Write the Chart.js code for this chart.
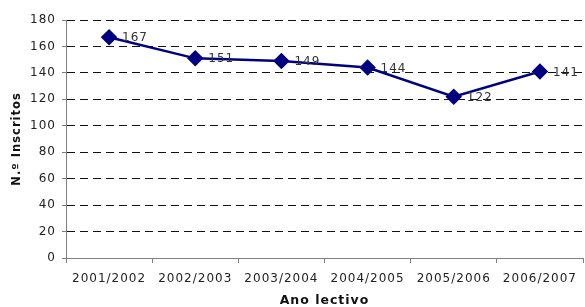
<!DOCTYPE html>
<html>
<head>
<meta charset="utf-8">
<script src="https://cdn.jsdelivr.net/npm/chart.js@4"></script>
<style>
  html, body { margin: 0; padding: 0; background: #fff; overflow: hidden; }
  #wrap { position: relative; width: 592px; height: 307px; }
</style>
</head>
<body>
<div id="wrap"><canvas id="chart"></canvas></div>
<script>
// Inscritos por ano lectivo
const years = ["2001/2002", "2002/2003", "2003/2004", "2004/2005", "2005/2006", "2006/2007"];
const enrolled = [167, 151, 149, 144, 122, 141];
const yTicks = [0, 20, 40, 60, 80, 100, 120, 140, 160, 180];

const FONT = "Verdana, 'DejaVu Sans', sans-serif";

// Excel-style spaced text
const spacing = {
  id: "spacing",
  beforeDraw(chart) {
    chart.ctx.letterSpacing = "1px";
  },
};

// value labels to the right of each marker
const valueLabels = {
  id: "valueLabels",
  afterDatasetsDraw(chart) {
    const ctx = chart.ctx;
    const meta = chart.getDatasetMeta(0);
    ctx.save();
    ctx.letterSpacing = "1px";
    ctx.font = "12px " + FONT;
    ctx.fillStyle = "#333";
    ctx.textAlign = "left";
    ctx.textBaseline = "middle";
    meta.data.forEach((pt, i) => {
      ctx.fillText(String(enrolled[i]), pt.x + 13, pt.y + 1);
    });
    ctx.restore();
  },
};

new Chart(document.getElementById("chart"), {
  type: "line",
  data: {
    labels: years,
    datasets: [
      {
        data: enrolled,
        borderColor: "#000080",
        backgroundColor: "#000080",
        borderWidth: 2.5,
        pointStyle: "rectRot",
        pointRadius: 6.5,
        pointHoverRadius: 6.5,
        tension: 0,
      },
    ],
  },
  options: {
    responsive: true,
    maintainAspectRatio: false,
    animation: false,
    layout: { padding: { top: 20, right: 2, left: 0, bottom: 0 } },
    plugins: { legend: { display: false }, tooltip: { enabled: false } },
    scales: {
      x: {
        offset: true,
        grid: { display: true, drawOnChartArea: false, offset: true, tickLength: 5, color: "#808080" },
        border: { color: "#808080", width: 1 },
        ticks: { color: "#222", font: { family: FONT, size: 12 }, padding: 9, maxRotation: 0 },
        title: { display: true, text: "Ano lectivo", color: "#111", font: { family: FONT, size: 12.5, weight: "bold" }, padding: { top: 2, bottom: -1 } },
        afterFit(scale) { scale.height = 49; },
      },
      y: {
        min: 0,
        max: 180,
        afterBuildTicks(scale) { scale.ticks = yTicks.map((v) => ({ value: v })); },
        grid: { color: "#111", tickLength: 4, tickColor: "#808080" },
        border: { color: "#808080", width: 1, dash: [8, 5] },
        ticks: { color: "#222", font: { family: FONT, size: 12 }, padding: 6 },
        title: { display: true, text: "N.º Inscritos", color: "#111", font: { family: FONT, size: 11.5, weight: "bold" }, padding: { top: 10, bottom: 0 } },
        afterFit(scale) { scale.width = 66; },
      },
    },
  },
  plugins: [spacing, valueLabels],
});
</script>
</body>
</html>
